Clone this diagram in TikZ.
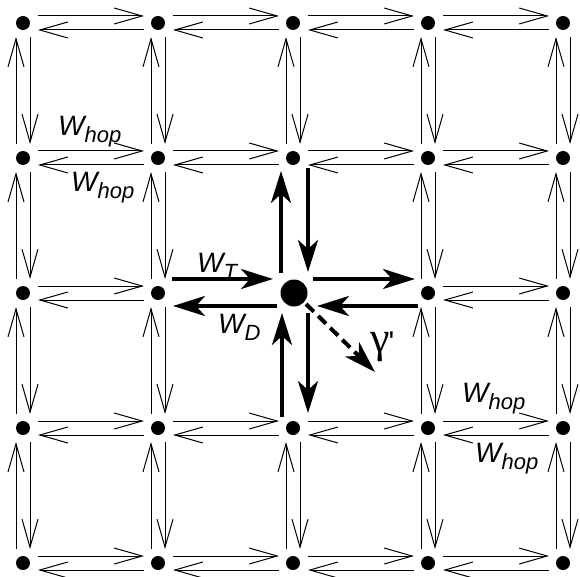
\documentclass[tikz,border=0pt]{standalone}
\usepackage{fontspec}
\setmainfont{Liberation Sans}
\newfontfamily\gamfont{Liberation Serif}
\newfontfamily\primefont{Liberation Sans}[Ligatures=TeXOff]
\usetikzlibrary{arrows.meta,calc}
\newcommand\WSub[1]{W\raisebox{-7pt}{\fontsize{22}{24}\selectfont #1}}
\begin{document}
\begin{tikzpicture}[x=1pt,y=-1pt,
  dot/.style={circle,fill=black,inner sep=0pt,minimum size=14pt},
  bigdot/.style={circle,fill=black,inner sep=0pt,minimum size=27pt},
  hoparrow/.style={line width=1pt,-{Straight Barb[length=28pt,width=16pt]}},
  strongarrow/.style={line width=4pt,-{Stealth[length=32pt,width=20pt,inset=9pt]}},
  dasharrow/.style={strongarrow,dash pattern=on 11pt off 6pt},
  lab/.style={font=\fontsize{28}{30}\selectfont\itshape,inner sep=0pt,anchor=base west}
]
\useasboundingbox (0,0) rectangle (580,577);
% grid nodes
\foreach \i in {0,...,4}{
  \foreach \j in {0,...,4}{
    \pgfmathtruncatemacro\cen{(\i==2)&&(\j==2)}
    \ifnum\cen=1
      \node[bigdot] (n-\i-\j) at (294,293) {};
    \else
      \node[dot] (n-\i-\j) at ({23+135*\i},{23+135*\j}) {};
    \fi
  }
}
% horizontal thin arrows
\foreach \i in {0,...,3}{
  \foreach \j in {0,...,4}{
    \pgfmathtruncatemacro\ii{\i+1}
    \pgfmathtruncatemacro\sk{(\j==2)&&((\i==1)||(\i==2))}
    \ifnum\sk=0
      \draw[hoparrow] ($(n-\i-\j)+(15,-7)$) -- ($(n-\ii-\j)+(-14,-7)$);
      \draw[hoparrow] ($(n-\ii-\j)+(-14,7)$) -- ($(n-\i-\j)+(15,7)$);
    \fi
  }
}
% vertical thin arrows
\foreach \i in {0,...,4}{
  \foreach \j in {0,...,3}{
    \pgfmathtruncatemacro\jj{\j+1}
    \pgfmathtruncatemacro\sk{(\i==2)&&((\j==1)||(\j==2))}
    \ifnum\sk=0
      \draw[hoparrow] ($(n-\i-\jj)+(-7,-14)$) -- ($(n-\i-\j)+(-7,14)$);
      \draw[hoparrow] ($(n-\i-\j)+(7,14)$) -- ($(n-\i-\jj)+(7,-14)$);
    \fi
  }
}
% thick arrows around centre
\draw[strongarrow] ($(n-1-2)+(14,-14)$) -- ($(n-2-2)+(-21,-14)$);
\draw[strongarrow] ($(n-2-2)+(-17,13)$) -- ($(n-1-2)+(15,13)$);
\draw[strongarrow] ($(n-2-2)+(19,-14)$) -- ($(n-3-2)+(-13,-14)$);
\draw[strongarrow] ($(n-3-2)+(-10,13)$) -- ($(n-2-2)+(23,13)$);
\draw[strongarrow] ($(n-2-2)+(-13,-20)$) -- ($(n-2-1)+(-12,13)$);
\draw[strongarrow] ($(n-2-1)+(15,10)$) -- ($(n-2-2)+(14,-21)$);
\draw[strongarrow] ($(n-2-3)+(-11,-11)$) -- ($(n-2-2)+(-12,20)$);
\draw[strongarrow] ($(n-2-2)+(14,20)$) -- ($(n-2-3)+(15,-15)$);
\coordinate (gtip) at (375,372);
\draw[dasharrow] ($(n-2-2)+(12,11)$) -- (gtip);
% labels
\node[lab] (l1) at (58,136) {\WSub{hop}};
\node[lab] (l2) at (71,192) {\WSub{hop}};
\node[lab] (l3) at (462,402) {\WSub{hop}};
\node[lab] (l4) at (475,462) {\WSub{hop}};
\node[lab] (lt) at (197,272) {\WSub{T}};
\node[lab] (ld) at (218,333) {\WSub{D}};
\node[font=\fontsize{44}{48}\selectfont,inner sep=0pt,anchor=base west] (lg) at (370,352) {{\gamfont γ}\hspace{-1pt}{\primefont\fontsize{30}{30}\selectfont '}};
\end{tikzpicture}
\end{document}
